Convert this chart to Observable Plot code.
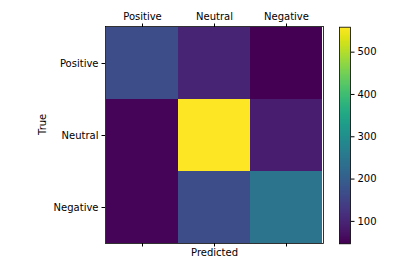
<!DOCTYPE html>
<html>
<head>
<meta charset="utf-8">
<script src="https://cdn.jsdelivr.net/npm/d3@7"></script>
<script src="https://cdn.jsdelivr.net/npm/@observablehq/plot@0.6"></script>
<style>
  html, body { margin: 0; padding: 0; background: #fff; }
  #wrap { position: relative; width: 394px; height: 262px; }
  #wrap svg { position: absolute; left: 0; top: 0; }
</style>
</head>
<body>
<div id="wrap"></div>
<script>
// Confusion matrix values (rows = True, columns = Predicted)
const classes = ["Positive", "Neutral", "Negative"];
const truePositive = [165, 98, 47];
const trueNeutral = [52, 559, 88];
const trueNegative = [52, 165, 242];
const colorTicks = [100, 200, 300, 400, 500];
const xLabel = "Predicted";
const yLabel = "True";

const rows = [truePositive, trueNeutral, trueNegative];
const cells = [];
rows.forEach((row, i) => row.forEach((v, j) => cells.push({truth: classes[i], pred: classes[j], value: v})));
const allValues = rows.flat();
const vmin = d3.min(allValues), vmax = d3.max(allValues);

const font = "DejaVu Sans, sans-serif";
const W = 394, H = 262;
const color = {type: "linear", scheme: "viridis", domain: [vmin, vmax]};

const main = Plot.plot({
  width: W, height: H,
  marginLeft: 105, marginRight: 71, marginTop: 26, marginBottom: 19,
  style: {fontFamily: font, fontSize: "10px", color: "black", background: "transparent", overflow: "visible"},
  x: {type: "band", domain: classes, padding: 0},
  y: {type: "band", domain: classes, padding: 0},
  color,
  marks: [
    Plot.cell(cells, {x: "pred", y: "truth", fill: "value", inset: 0, shapeRendering: "crispEdges"}),
    Plot.frame({stroke: "black", strokeWidth: 0.8}),
    Plot.axisX({anchor: "top", tickSize: 3.5, tickPadding: 3.5, label: null, fontSize: 10}),
    Plot.axisX({anchor: "bottom", tickSize: 3.5, tickFormat: () => "", label: null}),
    Plot.axisY({anchor: "left", tickSize: 3.5, tickPadding: 3.5, label: null, fontSize: 10}),
    Plot.text([xLabel], {frameAnchor: "bottom", dy: 12, text: d => d, fontSize: 10, fill: "black"}),
    Plot.text([yLabel], {frameAnchor: "left", dx: -63, rotate: -90, text: d => d, fontSize: 10, fill: "black"})
  ]
});

const bar = Plot.plot({
  width: W, height: H,
  marginLeft: 339, marginRight: 44, marginTop: 26.7, marginBottom: 18.7,
  style: {fontFamily: font, fontSize: "10px", color: "black", background: "transparent", overflow: "visible"},
  x: {domain: [0, 1], axis: null},
  y: {domain: [vmin, vmax]},
  color,
  marks: [
    Plot.raster({fill: (x, y) => y, x1: 0, x2: 1, y1: vmin, y2: vmax, pixelSize: 1}),
    Plot.frame({stroke: "black", strokeWidth: 0.8}),
    Plot.axisY({anchor: "right", ticks: colorTicks, tickSize: 3.5, tickPadding: 3.5, label: null, fontSize: 10})
  ]
});

const wrap = document.getElementById("wrap");
wrap.appendChild(main);
wrap.appendChild(bar);
</script>
</body>
</html>
